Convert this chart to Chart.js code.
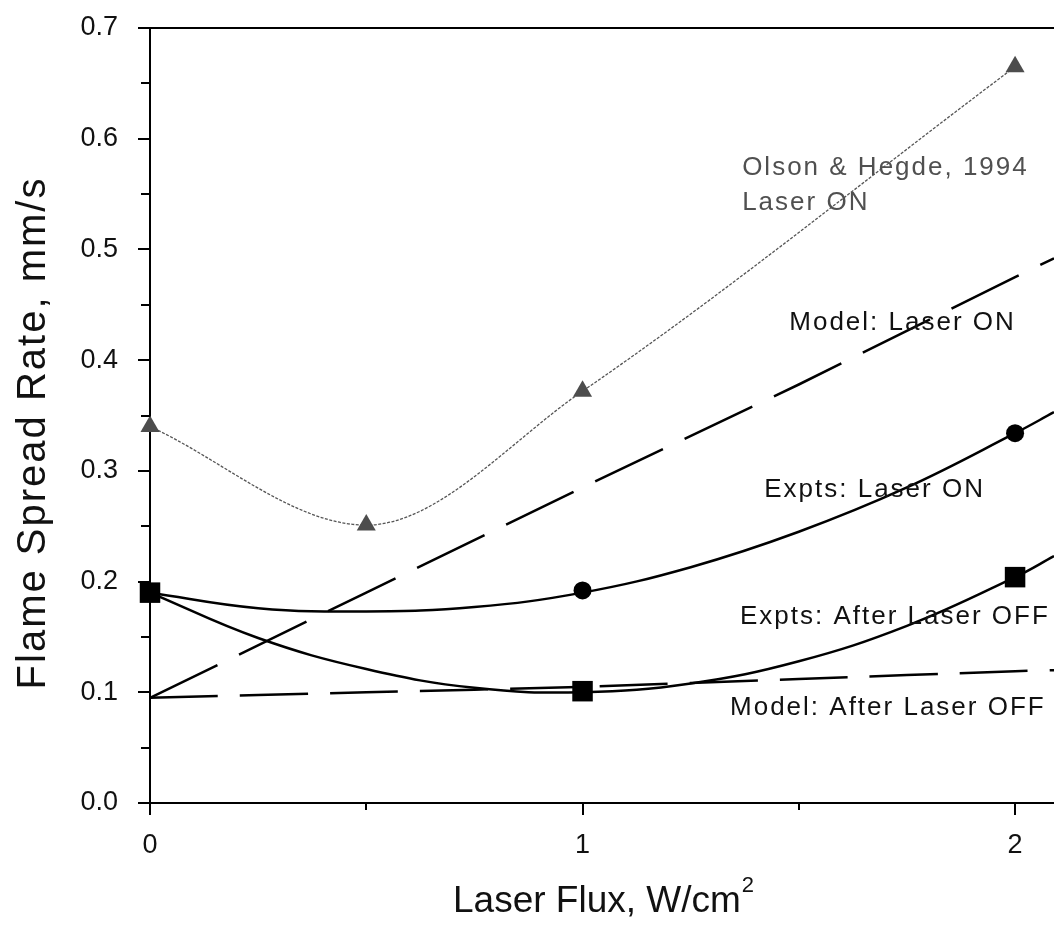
<!DOCTYPE html>
<html>
<head>
<meta charset="utf-8">
<script src="https://cdn.jsdelivr.net/npm/chart.js@4.4.1/dist/chart.umd.min.js"></script>
<style>
html, body { margin: 0; padding: 0; background: #fff; }
#wrap { width: 1054px; height: 939px; }
</style>
</head>
<body>
<div id="wrap"><canvas id="fsChart" width="1054" height="939"></canvas></div>
<script>
'use strict';

// measured points (laser flux W/cm2 -> spread rate mm/s)
var olsonX = [0, 0.5, 1, 2];
var olsonY = [0.340, 0.251, 0.372, 0.665];

var exptsX = [0, 1, 2];
var exptsOnY = [0.190, 0.192, 0.334];
var exptsOffY = [0.190, 0.101, 0.204];

// fitted curves through the expts
var curveX = [0, 0.25, 0.5, 0.75, 1, 1.25, 1.5, 1.75, 2, 2.09];
var exptsOnCurve = [0.190, 0.176, 0.173, 0.177, 0.190, 0.213, 0.245, 0.285, 0.334, 0.353];
var exptsOffCurve = [0.190, 0.149, 0.121, 0.104, 0.100, 0.108, 0.128, 0.160, 0.204, 0.223];

// model lines
var modelX = [0, 0.5, 1, 1.5, 2, 2.09];
var modelOnY = [0.095, 0.190, 0.285, 0.378, 0.475, 0.492];
var modelOffY = [0.095, 0.100, 0.105, 0.112, 0.119, 0.120];

var xTickLabels = ['0', '1', '2'];
var yTickLabels = ['0.0', '0.1', '0.2', '0.3', '0.4', '0.5', '0.6', '0.7'];

var fsLabels = [
    { lines: ['Olson & Hegde, 1994', 'Laser ON'], x: 1.369, y: 0.574, color: '#505050' },
    { lines: ['Model: Laser ON'], x: 1.478, y: 0.434, color: '#111' },
    { lines: ['Expts: Laser ON'], x: 1.420, y: 0.283, color: '#111' },
    { lines: ['Expts: After Laser OFF'], x: 1.364, y: 0.168, color: '#111' },
    { lines: ['Model: After Laser OFF'], x: 1.341, y: 0.086, color: '#111' }
];

var FONT = '"Liberation Sans", Arial, sans-serif';

function fsPts(xs, ys) {
    return xs.map(function (x, i) { return { x: x, y: ys[i] }; });
}

function fsIsMajor(v, step) {
    var r = v / step;
    return Math.abs(r - Math.round(r)) < 1e-6;
}

function fsNoPad(s) {
    s.paddingTop = 0;
    s.paddingBottom = 0;
    s.paddingLeft = 0;
    s.paddingRight = 0;
}

// major ticks drawn by the scale, minor ones hidden there and drawn shorter below
function fsTickColor(step) {
    return function (c) {
        return (c.tick && fsIsMajor(c.tick.value, step)) ? '#000' : 'rgba(0,0,0,0)';
    };
}

var fsDecor = {
    id: 'fsDecor',
    afterDatasetsDraw: function (chart) {
        var ctx = chart.ctx;
        var a = chart.chartArea;
        var xs = chart.scales.x, ys = chart.scales.y;

        ctx.save();
        ctx.strokeStyle = '#000';
        ctx.lineWidth = 2;
        // frame top line
        ctx.beginPath();
        ctx.moveTo(a.left, a.top);
        ctx.lineTo(a.right, a.top);
        ctx.stroke();
        // minor ticks
        ctx.beginPath();
        xs.ticks.forEach(function (t) {
            if (fsIsMajor(t.value, 1)) return;
            var px = Math.round(xs.getPixelForValue(t.value));
            ctx.moveTo(px, a.bottom);
            ctx.lineTo(px, a.bottom + 7);
        });
        ys.ticks.forEach(function (t) {
            if (fsIsMajor(t.value, 0.1)) return;
            var py = Math.round(ys.getPixelForValue(t.value));
            ctx.moveTo(a.left, py);
            ctx.lineTo(a.left - 9, py);
        });
        ctx.stroke();
        ctx.restore();

        // curve labels
        ctx.save();
        ctx.font = '26px ' + FONT;
        ctx.textAlign = 'left';
        ctx.textBaseline = 'middle';
        ctx.letterSpacing = '2px';
        fsLabels.forEach(function (lb) {
            ctx.fillStyle = lb.color;
            var px = xs.getPixelForValue(lb.x);
            var py = ys.getPixelForValue(lb.y);
            lb.lines.forEach(function (t, i) {
                ctx.fillText(t, px, py + i * 35);
            });
        });
        ctx.restore();

        // axis titles
        ctx.save();
        ctx.fillStyle = '#111';
        ctx.font = '37px ' + FONT;
        ctx.textBaseline = 'alphabetic';
        ctx.textAlign = 'left';
        var xt = 'Laser Flux, W/cm';
        var tx = 453;
        ctx.fillText(xt, tx, 912);
        var w = ctx.measureText(xt).width;
        ctx.font = '22px ' + FONT;
        ctx.fillText('2', tx + w + 1, 892);

        ctx.translate(45, 433);
        ctx.rotate(-Math.PI / 2);
        ctx.font = '40px ' + FONT;
        ctx.letterSpacing = '2px';
        ctx.textAlign = 'center';
        ctx.fillText('Flame Spread Rate, mm/s', 0, 0);
        ctx.restore();
    }
};

var fsChart = new Chart(document.getElementById('fsChart'), {
    type: 'line',
    data: {
        datasets: [
            {
                label: 'Expts: After Laser OFF pts',
                data: fsPts(exptsX, exptsOffY),
                showLine: false,
                clip: false,
                pointStyle: 'rect',
                pointRadius: 14.5,
                backgroundColor: '#000',
                borderColor: '#000',
                borderWidth: 0
            },
            {
                label: 'Expts: Laser ON pts',
                data: fsPts(exptsX, exptsOnY),
                showLine: false,
                clip: false,
                pointStyle: 'circle',
                pointRadius: 9,
                backgroundColor: '#000',
                borderColor: '#000',
                borderWidth: 0
            },
            {
                label: 'Olson & Hegde, 1994',
                data: fsPts(olsonX, olsonY),
                clip: false,
                borderColor: '#555',
                borderWidth: 1.3,
                borderDash: [3, 1.5],
                cubicInterpolationMode: 'monotone',
                pointStyle: 'triangle',
                pointRadius: 11,
                pointBackgroundColor: '#4d4d4d',
                pointBorderColor: '#4d4d4d',
                pointBorderWidth: 0
            },
            {
                label: 'Expts: Laser ON',
                data: fsPts(curveX, exptsOnCurve),
                borderColor: '#000',
                borderWidth: 2.5,
                tension: 0.4,
                pointRadius: 0
            },
            {
                label: 'Expts: After Laser OFF',
                data: fsPts(curveX, exptsOffCurve),
                borderColor: '#000',
                borderWidth: 2.5,
                tension: 0.4,
                pointRadius: 0
            },
            {
                label: 'Model: Laser ON',
                data: fsPts(modelX, modelOnY),
                borderColor: '#000',
                borderWidth: 2.5,
                borderDash: [75, 24],
                tension: 0,
                pointRadius: 0
            },
            {
                label: 'Model: After Laser OFF',
                data: fsPts(modelX, modelOffY),
                borderColor: '#000',
                borderWidth: 2.5,
                borderDash: [68, 22],
                tension: 0.3,
                pointRadius: 0
            }
        ]
    },
    options: {
        responsive: false,
        animation: false,
        devicePixelRatio: 1,
        layout: { autoPadding: false, padding: { top: 28, right: 0, left: 0, bottom: 0 } },
        plugins: {
            legend: { display: false },
            tooltip: { enabled: false }
        },
        scales: {
            x: {
                type: 'linear',
                min: 0,
                max: 2.09,
                border: { display: true, color: '#000', width: 2 },
                grid: { drawOnChartArea: false, drawTicks: true, tickLength: 12, color: fsTickColor(1), lineWidth: 2 },
                ticks: {
                    stepSize: 0.5,
                    includeBounds: false,
                    autoSkip: false,
                    maxRotation: 0,
                    padding: 14,
                    color: '#111',
                    font: { family: FONT, size: 27 },
                    callback: function (v) {
                        return fsIsMajor(v, 1) ? xTickLabels[Math.round(v)] : '';
                    }
                },
                afterFit: function (s) { s.height = 136; fsNoPad(s); }
            },
            y: {
                type: 'linear',
                min: 0,
                max: 0.7,
                border: { display: true, color: '#000', width: 2 },
                grid: { drawOnChartArea: false, drawTicks: true, tickLength: 12, color: fsTickColor(0.1), lineWidth: 2 },
                ticks: {
                    stepSize: 0.05,
                    autoSkip: false,
                    padding: 20,
                    color: '#111',
                    font: { family: FONT, size: 27 },
                    callback: function (v) {
                        return fsIsMajor(v, 0.1) ? yTickLabels[Math.round(v * 10)] : '';
                    }
                },
                afterFit: function (s) { s.width = 150; fsNoPad(s); }
            }
        }
    },
    plugins: [fsDecor]
});
</script>
</body>
</html>
